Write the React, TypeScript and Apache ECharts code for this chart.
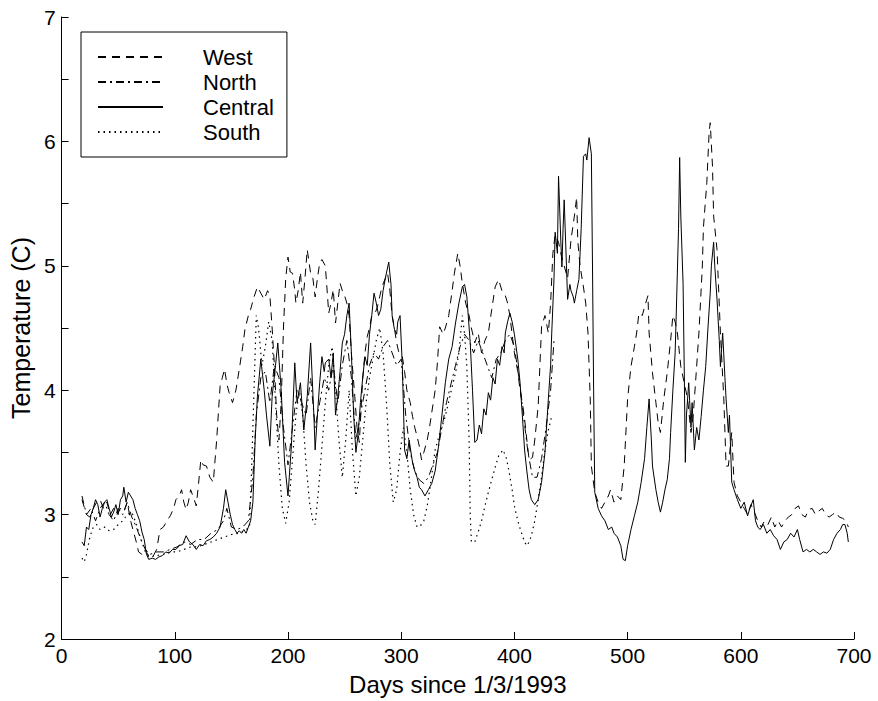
import React, { useEffect, useRef } from "react";
import * as echarts from "echarts";

const seriesNames = ["West", "North", "Central", "South"];
const xTicks = [0, 100, 200, 300, 400, 500, 600, 700];
const yTicks = [2, 3, 4, 5, 6, 7];

const west: [number, number][] = [
  [18, 3.12], [22, 3.0], [25, 2.98], [28, 3.05], [31, 3.1], [34, 3.12], [37, 3.05], [40, 3.1], [43, 3.0], [46, 3.05],
  [49, 3.0], [52, 3.05], [55, 3.02], [58, 3.1], [61, 2.95], [63, 2.88], [66, 2.78], [68, 2.7], [71, 2.68], [74, 2.72],
  [77, 2.66], [80, 2.65], [84, 2.72], [87, 2.88], [90, 2.9], [93, 2.95], [96, 2.99], [99, 3.05], [101, 3.12], [104, 3.15],
  [106, 3.2], [108, 3.1], [110, 3.04], [112, 3.1], [114, 3.2], [116, 3.15], [119, 3.07], [121, 3.25], [123, 3.44], [125, 3.4],
  [128, 3.39], [131, 3.3], [134, 3.26], [137, 3.6], [140, 4.03], [142, 4.1], [144, 4.17], [146, 4.05], [148, 3.98], [151, 3.9],
  [154, 4.0], [157, 4.17], [160, 4.35], [162, 4.49], [165, 4.6], [167, 4.65], [170, 4.75], [173, 4.83], [176, 4.78], [179, 4.73],
  [182, 4.8], [184, 4.76], [186, 4.5], [188, 4.2], [190, 3.8], [192, 3.6], [194, 3.9], [196, 4.5], [198, 4.9], [200, 5.07],
  [202, 4.95], [204, 4.94], [206, 4.8], [207, 4.7], [209, 4.8], [211, 4.95], [213, 4.7], [215, 4.9], [217, 5.13], [220, 4.94],
  [222, 4.9], [224, 4.75], [226, 4.9], [228, 5.02], [230, 5.05], [233, 5.0], [236, 4.62], [238, 4.7], [240, 4.81], [242, 4.54],
  [244, 4.7], [246, 4.86], [248, 4.8], [250, 4.76], [252, 4.7], [254, 4.6], [256, 4.3], [259, 3.95], [261, 3.7], [263, 3.58],
  [266, 4.09], [268, 4.3], [270, 4.43], [272, 4.5], [274, 4.6], [277, 4.62], [279, 4.67], [281, 4.75], [283, 4.83], [286, 4.9],
  [288, 4.94], [290, 4.8], [292, 4.6], [294, 4.5], [296, 4.38], [298, 4.3], [301, 4.27], [303, 4.15], [305, 4.0], [308, 3.9],
  [310, 3.79], [312, 3.7], [314, 3.63], [316, 3.55], [318, 3.44], [320, 3.5], [323, 3.6], [325, 3.7], [327, 3.82], [330, 4.0],
  [332, 4.22], [334, 4.51], [337, 4.45], [339, 4.5], [342, 4.6], [345, 4.8], [347, 4.94], [350, 5.1], [352, 5.0], [354, 4.86],
  [357, 4.7], [360, 4.6], [362, 4.5], [365, 4.38], [368, 4.46], [371, 4.3], [374, 4.4], [377, 4.46], [380, 4.65], [383, 4.83],
  [386, 4.89], [389, 4.8], [392, 4.76], [394, 4.7], [396, 4.6], [398, 4.45], [400, 4.3], [403, 4.15], [405, 4.0], [407, 3.9],
  [409, 3.77], [411, 3.6], [413, 3.44], [416, 3.46], [418, 3.6], [421, 3.87], [423, 4.3], [424, 4.51], [427, 4.6], [430, 4.46],
  [432, 4.7], [434, 5.1], [436, 5.25], [439, 5.19], [441, 5.1], [444, 5.0], [447, 4.9], [450, 5.21], [453, 5.4], [455, 5.55],
  [456, 5.2], [458, 5.0], [461, 4.83], [463, 4.7], [465, 4.46], [467, 3.93], [468, 3.39], [471, 3.18], [474, 3.1], [477, 3.05],
  [480, 3.1], [483, 3.15], [485, 3.2], [488, 3.1], [491, 3.15], [494, 3.12], [497, 3.39], [500, 3.93], [503, 4.19], [506, 4.35],
  [508, 4.46], [510, 4.62], [513, 4.6], [515, 4.67], [518, 4.76], [519, 4.46], [522, 4.14], [525, 3.9], [527, 3.74], [529, 3.66],
  [532, 3.93], [535, 4.14], [538, 4.4], [540, 4.6], [542, 4.55], [544, 4.46], [547, 4.19], [550, 4.06], [553, 3.93], [556, 3.66],
  [558, 3.8], [560, 4.06], [563, 4.46], [566, 4.99], [567, 5.31], [570, 5.67], [572, 6.07], [573, 6.15], [575, 5.8], [576, 5.4],
  [579, 5.13], [582, 4.46], [585, 3.93], [587, 3.39], [589, 3.39], [592, 3.66], [594, 3.26], [597, 3.15], [600, 3.1], [603, 3.05],
  [606, 3.0], [609, 3.08], [612, 3.02], [615, 2.95], [618, 2.9], [621, 2.95], [624, 2.92], [627, 2.98], [630, 2.9], [633, 2.95],
  [636, 2.9], [639, 2.95], [642, 2.98], [645, 3.0], [648, 3.05], [651, 3.07], [654, 3.0], [657, 2.98], [660, 3.04], [663, 3.05],
  [666, 3.0], [669, 3.03], [672, 3.05], [675, 3.0], [678, 2.98], [681, 3.0], [684, 3.02], [687, 2.98], [690, 2.97], [693, 2.95],
  [695, 2.9],
];

const north: [number, number][] = [
  [18, 3.15], [22, 3.0], [26, 3.05], [30, 2.95], [34, 3.05], [38, 3.1], [42, 3.0], [46, 2.95], [50, 3.05], [54, 3.0],
  [58, 3.1], [62, 2.98], [66, 2.9], [70, 2.8], [74, 2.72], [78, 2.68], [84, 2.7], [90, 2.7], [96, 2.72], [102, 2.74],
  [108, 2.78], [114, 2.76], [120, 2.8], [126, 2.8], [132, 2.85], [138, 2.88], [143, 2.95], [146, 3.05], [150, 2.9], [155, 2.88],
  [160, 2.9], [165, 2.95], [169, 3.3], [172, 3.8], [176, 4.1], [180, 4.15], [184, 3.9], [188, 4.2], [192, 4.1], [196, 3.7],
  [200, 3.4], [204, 3.7], [208, 4.0], [212, 3.9], [216, 3.8], [220, 4.1], [224, 3.7], [228, 3.9], [232, 4.1], [236, 4.0],
  [240, 4.2], [244, 3.9], [248, 4.2], [252, 4.4], [256, 4.1], [260, 3.6], [264, 3.8], [268, 4.0], [272, 4.2], [276, 4.3],
  [280, 4.25], [284, 4.35], [288, 4.4], [292, 4.3], [296, 4.2], [300, 4.25], [304, 3.8], [308, 3.5], [312, 3.35], [316, 3.28],
  [320, 3.25], [324, 3.3], [328, 3.4], [332, 3.5], [336, 3.7], [340, 3.9], [344, 4.05], [348, 4.2], [352, 4.35], [356, 4.45],
  [360, 4.4], [364, 4.3], [368, 4.4], [372, 4.3], [376, 4.2], [380, 4.1], [384, 4.25], [388, 4.3], [392, 4.4], [396, 4.45],
  [400, 4.35], [404, 4.1], [408, 3.8], [412, 3.5], [416, 3.3], [420, 3.3], [424, 3.45], [428, 3.7], [432, 4.0], [435, 4.4],
];

const central: [number, number][] = [
  [18, 2.78], [20, 2.75], [22, 2.9], [24, 2.88], [26, 3.0], [28, 3.05], [30, 3.12], [32, 3.08], [34, 2.98], [36, 3.05],
  [38, 3.1], [40, 3.12], [42, 3.05], [44, 2.98], [46, 3.02], [48, 3.08], [50, 3.0], [52, 3.12], [54, 3.15], [55, 3.22],
  [57, 3.1], [59, 3.18], [61, 3.15], [63, 3.12], [65, 3.05], [67, 3.0], [69, 2.95], [71, 2.86], [73, 2.8], [75, 2.68],
  [77, 2.64], [80, 2.65], [83, 2.64], [86, 2.66], [89, 2.67], [92, 2.7], [95, 2.69], [98, 2.72], [101, 2.72], [104, 2.75],
  [107, 2.76], [110, 2.83], [113, 2.78], [116, 2.76], [119, 2.72], [122, 2.76], [125, 2.75], [128, 2.79], [131, 2.8], [134, 2.82],
  [137, 2.85], [140, 2.9], [143, 3.05], [145, 3.2], [147, 3.1], [149, 3.0], [151, 2.92], [153, 2.88], [155, 2.85], [157, 2.87],
  [159, 2.85], [161, 2.88], [163, 2.85], [165, 2.9], [167, 2.95], [169, 3.1], [171, 3.6], [173, 3.95], [176, 4.25], [179, 4.0],
  [181, 3.8], [184, 3.55], [186, 3.95], [189, 4.2], [191, 4.38], [194, 4.0], [197, 3.42], [200, 3.15], [203, 3.55], [206, 4.22],
  [208, 3.9], [211, 4.06], [214, 3.68], [217, 3.95], [220, 4.38], [223, 3.77], [224, 3.52], [226, 3.8], [228, 4.06], [230, 4.27],
  [232, 4.15], [233, 4.22], [236, 4.25], [238, 4.1], [240, 4.3], [242, 3.8], [244, 3.95], [246, 4.15], [248, 4.38], [250, 4.45],
  [252, 4.6], [254, 4.7], [256, 4.3], [258, 3.8], [260, 3.5], [262, 3.65], [264, 3.9], [266, 4.1], [268, 4.27], [270, 4.2],
  [272, 4.45], [274, 4.6], [276, 4.78], [278, 4.7], [280, 4.6], [282, 4.65], [284, 4.8], [286, 4.9], [289, 5.03], [291, 4.85],
  [292, 4.6], [294, 4.49], [296, 4.45], [297, 4.55], [299, 4.6], [301, 4.2], [303, 3.52], [305, 3.45], [307, 3.6], [310, 3.42],
  [312, 3.35], [314, 3.3], [316, 3.22], [318, 3.2], [321, 3.15], [324, 3.2], [327, 3.25], [330, 3.35], [333, 3.55], [336, 3.8],
  [339, 4.06], [342, 4.25], [345, 4.35], [348, 4.54], [351, 4.7], [354, 4.83], [356, 4.85], [358, 4.75], [361, 4.38], [363, 4.0],
  [365, 3.58], [367, 3.6], [369, 3.72], [371, 3.65], [373, 3.85], [375, 3.8], [377, 3.98], [379, 3.92], [381, 4.1], [383, 4.05],
  [385, 4.25], [387, 4.2], [389, 4.35], [391, 4.3], [392, 4.46], [394, 4.55], [396, 4.62], [398, 4.55], [400, 4.45], [403, 4.25],
  [405, 4.06], [407, 3.8], [409, 3.52], [411, 3.35], [413, 3.2], [415, 3.12], [418, 3.08], [421, 3.12], [424, 3.26], [427, 3.5],
  [430, 3.93], [432, 4.2], [433, 4.46], [435, 4.9], [436, 5.27], [438, 5.1], [439, 5.72], [441, 5.2], [442, 4.99], [443, 5.3],
  [444, 5.53], [446, 5.0], [447, 4.73], [449, 4.85], [450, 4.8], [452, 4.75], [453, 4.7], [455, 4.8], [457, 4.89], [459, 5.3],
  [461, 5.88], [463, 5.9], [464, 5.85], [466, 6.03], [468, 5.9], [469, 4.99], [470, 4.0], [471, 3.18], [474, 3.05], [477, 2.99],
  [480, 2.95], [483, 2.88], [486, 2.9], [488, 2.85], [491, 2.82], [494, 2.75], [496, 2.64], [498, 2.63], [500, 2.75], [503, 2.88],
  [506, 2.99], [509, 3.1], [512, 3.26], [515, 3.45], [517, 3.7], [519, 3.93], [521, 3.6], [522, 3.39], [525, 3.2], [527, 3.1],
  [529, 3.02], [531, 3.1], [533, 3.2], [535, 3.28], [537, 3.45], [538, 3.66], [540, 4.0], [542, 4.3], [543, 4.62], [545, 5.3],
  [546, 5.87], [547, 5.4], [549, 4.86], [550, 4.2], [551, 3.42], [552, 3.8], [554, 4.06], [556, 3.7], [557, 3.9], [559, 3.52],
  [561, 3.7], [563, 3.6], [565, 3.79], [567, 4.0], [569, 4.19], [571, 4.5], [573, 4.78], [574, 5.0], [576, 5.19], [577, 5.0],
  [579, 4.73], [581, 4.4], [582, 4.19], [584, 4.46], [586, 4.1], [587, 3.93], [589, 3.66], [590, 3.8], [592, 3.26], [594, 3.2],
  [597, 3.12], [600, 3.05], [603, 3.1], [606, 2.99], [608, 3.05], [611, 3.12], [613, 2.95], [615, 2.9], [617, 2.88], [620, 2.92],
  [623, 2.85], [626, 2.88], [629, 2.83], [632, 2.8], [635, 2.72], [638, 2.78], [641, 2.8], [644, 2.85], [647, 2.82], [650, 2.88],
  [652, 2.8], [655, 2.7], [658, 2.72], [661, 2.7], [664, 2.72], [667, 2.7], [670, 2.68], [673, 2.7], [676, 2.69], [679, 2.72],
  [682, 2.8], [685, 2.85], [688, 2.88], [690, 2.92], [692, 2.92], [694, 2.85], [695, 2.78],
];

const south: [number, number][] = [
  [18, 2.65], [20, 2.62], [22, 2.68], [25, 2.82], [28, 2.9], [31, 2.92], [34, 2.88], [38, 2.9], [42, 2.87], [46, 2.88],
  [50, 2.92], [54, 2.95], [58, 3.0], [62, 3.02], [65, 2.95], [68, 2.86], [71, 2.78], [74, 2.7], [78, 2.66], [84, 2.67],
  [90, 2.68], [96, 2.7], [102, 2.7], [108, 2.72], [114, 2.74], [120, 2.74], [126, 2.76], [132, 2.78], [138, 2.8], [144, 2.82],
  [150, 2.84], [156, 2.85], [162, 2.87], [166, 2.9], [168, 3.4], [170, 4.0], [172, 4.6], [174, 4.5], [177, 4.2], [180, 4.35],
  [183, 4.55], [186, 4.4], [189, 3.9], [192, 3.4], [195, 3.05], [198, 2.93], [201, 3.1], [204, 3.45], [207, 3.8], [210, 4.0],
  [213, 3.8], [216, 3.4], [219, 3.1], [222, 2.95], [224, 2.92], [227, 3.2], [230, 3.55], [233, 3.9], [236, 4.2], [239, 4.35],
  [242, 4.0], [245, 3.6], [248, 3.3], [251, 3.6], [254, 4.0], [257, 3.5], [260, 3.15], [263, 3.3], [266, 3.6], [269, 3.9],
  [272, 4.1], [275, 4.25], [278, 4.4], [281, 4.5], [284, 4.3], [287, 3.9], [290, 3.4], [293, 3.1], [296, 3.2], [299, 3.5],
  [302, 3.7], [305, 3.5], [308, 3.2], [311, 3.0], [314, 2.9], [317, 2.91], [320, 2.95], [323, 3.07], [326, 3.25], [330, 3.52],
  [334, 3.65], [339, 3.79], [343, 3.95], [348, 4.14], [351, 4.3], [354, 4.6], [356, 4.45], [358, 4.19], [360, 3.6], [361, 3.0],
  [362, 2.78], [365, 2.78], [368, 2.86], [371, 2.95], [374, 3.07], [377, 3.18], [380, 3.28], [383, 3.38], [386, 3.47], [390, 3.52],
  [393, 3.45], [395, 3.36], [398, 3.2], [400, 3.07], [403, 2.95], [406, 2.86], [409, 2.78], [411, 2.75], [413, 2.78], [415, 2.83],
  [418, 2.95], [421, 3.12], [424, 3.3], [427, 3.52], [430, 3.68], [433, 3.79],
];

const FONT = "'Liberation Sans', Arial, Helvetica, sans-serif";

export default function App() {
  const ref = useRef<HTMLDivElement>(null);
  useEffect(() => {
    if (!ref.current) return;
    const chart = echarts.init(ref.current, null, { renderer: "svg" });
    const styles: any[] = [
      { type: [8, 6], width: 1 },
      { type: [8, 4, 2, 4], width: 1 },
      { type: "solid", width: 1 },
      { type: [1.5, 4], width: 1.2 },
    ];
    const datasets = [west, north, central, south];
    chart.setOption({
      animation: false,
      backgroundColor: "#ffffff",
      textStyle: { fontFamily: FONT, color: "#000" },
      grid: { left: 58, right: 24, top: 17, bottom: 61, containLabel: false },
      legend: {
        show: true,
        orient: "vertical",
        left: 81,
        top: 32,
        data: seriesNames,
        itemWidth: 65,
        itemHeight: 14,
        itemGap: 3,
        padding: [14, 13, 14, 16],
        borderColor: "#000",
        borderWidth: 1,
        backgroundColor: "#fff",
        itemStyle: { opacity: 0, color: "rgba(0,0,0,0)", borderWidth: 0 },
        textStyle: { fontSize: 22, fontFamily: FONT, color: "#000", lineHeight: 20, padding: [0, 0, 0, 35] },
      },
      xAxis: {
        type: "value",
        min: xTicks[0],
        max: xTicks[xTicks.length - 1],
        interval: 100,
        name: "Days since 1/3/1993",
        nameLocation: "middle",
        nameGap: 33,
        nameTextStyle: { fontSize: 24, color: "#000", fontFamily: FONT },
        axisLine: { show: true, lineStyle: { color: "#000", width: 1 } },
        axisTick: { show: true, inside: true, length: 7, lineStyle: { color: "#000" } },
        axisLabel: { fontSize: 21, color: "#000", margin: 6, fontFamily: FONT },
        splitLine: { show: false },
      },
      yAxis: {
        type: "value",
        min: yTicks[0],
        max: yTicks[yTicks.length - 1],
        interval: 1,
        name: "Temperature (C)",
        nameLocation: "middle",
        nameGap: 21,
        nameTextStyle: { fontSize: 25, color: "#000", fontFamily: FONT },
        axisLine: { show: true, lineStyle: { color: "#000", width: 1 } },
        axisTick: { show: true, inside: true, length: 7, lineStyle: { color: "#000" } },
        minorTick: { show: true, splitNumber: 2, length: 7, lineStyle: { color: "#000" } },
        axisLabel: { fontSize: 21, color: "#000", margin: 6, fontFamily: FONT },
        splitLine: { show: false },
      },
      series: seriesNames.map((name, i) => ({
        name,
        type: "line",
        data: datasets[i],
        showSymbol: false,
        symbol: "none",
        lineStyle: { color: "#000", ...styles[i] },
        itemStyle: { color: "#000" },
        z: i === 2 ? 3 : 2,
      })),
    });
    return () => chart.dispose();
  }, []);
  return (
    <div
      ref={ref}
      style={{ position: "fixed", left: 0, top: 0, width: 878, height: 701, background: "#fff" }}
    />
  );
}
